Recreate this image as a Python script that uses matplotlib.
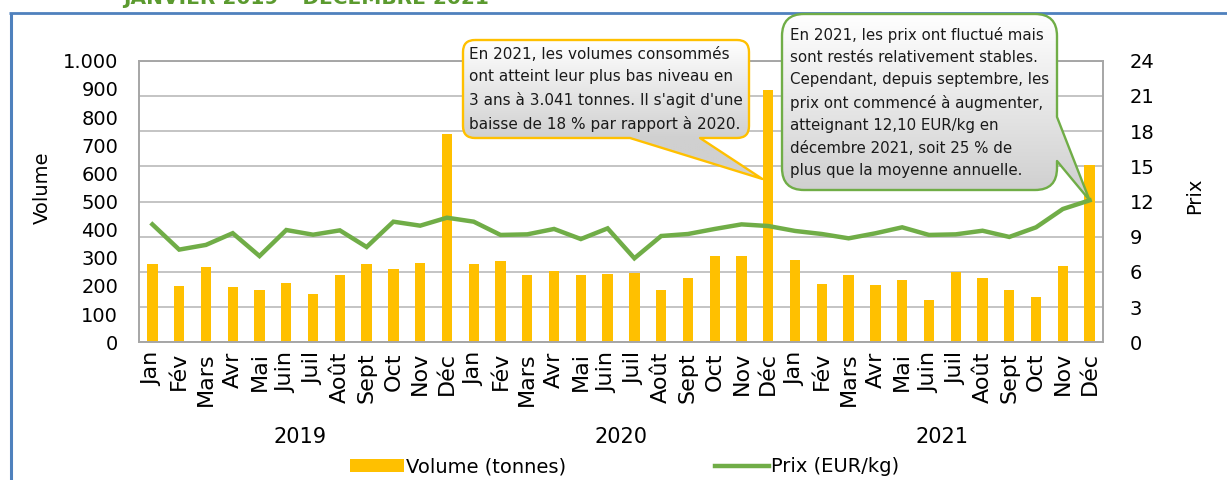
import numpy as np
import matplotlib
matplotlib.use("Agg")
import matplotlib.pyplot as plt
from matplotlib.path import Path
from matplotlib.patches import PathPatch
from matplotlib.ticker import FuncFormatter

# ---- data -------------------------------------------------------------
months = ['Jan', 'Fév', 'Mars', 'Avr', 'Mai', 'Juin', 'Juil', 'Août',
          'Sept', 'Oct', 'Nov', 'Déc']
years = ['2019', '2020', '2021']

vol_2019 = [278, 201, 266, 198, 187, 212, 170, 240, 278, 262, 282, 738]
vol_2020 = [278, 290, 240, 254, 239, 244, 245, 186, 228, 308, 305, 896]
vol_2021 = [292, 207, 239, 204, 222, 150, 250, 228, 185, 162, 272, 630]

price_2019 = [10.05, 7.90, 8.30, 9.30, 7.35, 9.57, 9.17, 9.54, 8.12, 10.28, 9.94, 10.62]
price_2020 = [10.28, 9.15, 9.20, 9.66, 8.80, 9.71, 7.16, 9.06, 9.23, 9.66, 10.05, 9.91]
price_2021 = [9.49, 9.23, 8.86, 9.29, 9.80, 9.15, 9.20, 9.51, 8.98, 9.80, 11.36, 12.10]

vol_ticks = list(range(0, 1001, 100))
price_ticks = list(range(0, 25, 3))

title = "JANVIER 2019 – DÉCEMBRE 2021"
note_volume = ("En 2021, les volumes consommés\n"
               "ont atteint leur plus bas niveau en\n"
               "3 ans à 3.041 tonnes. Il s'agit d'une\n"
               "baisse de 18 % par rapport à 2020.")
note_price = ("En 2021, les prix ont fluctué mais\n"
              "sont restés relativement stables.\n"
              "Cependant, depuis septembre, les\n"
              "prix ont commencé à augmenter,\n"
              "atteignant 12,10 EUR/kg en\n"
              "décembre 2021, soit 25 % de\n"
              "plus que la moyenne annuelle.")

volumes = vol_2019 + vol_2020 + vol_2021
prices = price_2019 + price_2020 + price_2021
labels = months * len(years)
x = np.arange(len(volumes))

# ---- style ------------------------------------------------------------
BAR = '#FFC000'
LINE = '#70AD47'
GRID = '#BFBFBF'
SPINE = '#A6A6A6'
FRAME = '#4F81BD'
plt.rcParams['font.family'] = ['DejaVu Sans']

W, H = 1227, 480
fig = plt.figure(figsize=(W / 100, H / 100), dpi=100)
fig.patch.set_facecolor('white')

ax = fig.add_axes([139 / W, 1 - 342.3 / H, (1103 - 139) / W, (342.3 - 60.7) / H])
ax2 = ax.twinx()

# volume bars with gridlines aligned on the price scale
vmax, pmax = vol_ticks[-1], price_ticks[-1]
ax.hlines([p * vmax / pmax for p in price_ticks], -0.5, len(x) - 0.5,
          colors=GRID, lw=1.3, zorder=0)
bars = ax.bar(x, volumes, width=0.385, color=BAR, zorder=2,
              label='Volume (tonnes)')
ax.set_xlim(-0.5, len(x) - 0.5)
ax.set_ylim(0, vmax)
ax.set_yticks(vol_ticks)
ax.yaxis.set_major_formatter(FuncFormatter(lambda v, _: f"{int(v):,}".replace(',', '.')))
ax.set_xticks(x)
ax.set_xticklabels(labels, rotation=90, fontsize=16)
ax.tick_params(axis='x', length=0, pad=7)
ax.tick_params(axis='y', length=0, pad=15, labelsize=14)

line, = ax2.plot(x, prices, color=LINE, lw=3.2, solid_joinstyle='miter',
                 label='Prix (EUR/kg)', zorder=3)
ax2.set_ylim(0, pmax)
ax2.set_yticks(price_ticks)
ax2.tick_params(axis='y', length=0, pad=19, labelsize=14)

for a in (ax, ax2):
    for s in a.spines.values():
        s.set_color(SPINE)
        s.set_linewidth(1.2)

# ---- overlay in pixel coordinates (origin top-left) ---------------------
ov = fig.add_axes([0, 0, 1, 1], zorder=10)
ov.set_xlim(0, W)
ov.set_ylim(H, 0)
ov.axis('off')
ov.patch.set_alpha(0)


def to_px(axis, xv, yv):
    dx, dy = axis.transData.transform((xv, yv))
    return dx, H - dy


# outer frame and the heading running off the top edge
ov.plot([10.5, 10.5], [12.8, H + 2], color=FRAME, lw=2.2, solid_capstyle='butt')
ov.plot([9.4, W + 2], [12.8, 12.8], color=FRAME, lw=2.0, solid_capstyle='butt')
ov.text(123, 3.5, title, fontsize=14.5, fontweight='bold', color='#5B9A2F',
        ha='left', va='baseline')

# axis titles
ov.text(42, 188, 'Volume', rotation=90, fontsize=14, ha='center', va='center')
ov.text(1195, 196, 'Prix', rotation=90, fontsize=14, ha='center', va='center')

# year group labels
for i, yr in enumerate(years):
    cx, _ = to_px(ax, i * 12 + 5.5, 0)
    ov.text(cx, 437, yr, fontsize=15, ha='center', va='center')

# legend
fig.legend(handles=[bars, line], loc='center', ncol=2,
           bbox_to_anchor=(624.5 / W, 1 - 467 / H), frameon=False,
           fontsize=14, handlelength=2.75, handletextpad=0.1,
           columnspacing=7.7, handleheight=0.62)


def callout(x0, y0, x1, y1, r, edge, a, b, tip):
    """Rounded box with a pointer leaving from `edge` between a and b."""
    M, L, C = Path.MOVETO, Path.LINETO, Path.CURVE3
    v, c = [(x0 + r, y0)], [M]

    def seg(pts, codes):
        v.extend(pts)
        c.extend(codes)

    seg([(x1 - r, y0)], [L])
    seg([(x1, y0), (x1, y0 + r)], [C, C])
    if edge == 'right':
        seg([(x1, a), tip, (x1, b)], [L, L, L])
    seg([(x1, y1 - r)], [L])
    seg([(x1, y1), (x1 - r, y1)], [C, C])
    if edge == 'bottom':
        seg([(b, y1), tip, (a, y1)], [L, L, L])
    seg([(x0 + r, y1)], [L])
    seg([(x0, y1), (x0, y1 - r)], [C, C])
    seg([(x0, y0 + r)], [L])
    seg([(x0, y0), (x0 + r, y0)], [C, C])
    return Path(v, c)


def draw_callout(path, y0, y1, edgecolor, top='#FFFFFF', bottom='#D0D0D0'):
    ext = path.get_extents()
    rows = np.arange(int(ext.y0), int(ext.y1) + 2)
    t = np.clip((rows - y0) / (y1 - y0), 0, 1)
    c0 = np.array(matplotlib.colors.to_rgb(top))
    c1 = np.array(matplotlib.colors.to_rgb(bottom))
    img = (c0[None, :] * (1 - t[:, None]) + c1[None, :] * t[:, None])[:, None, :]
    im = ov.imshow(img, extent=(ext.x0, ext.x1, rows[-1], rows[0]),
                   aspect='auto', interpolation='bilinear', zorder=1)
    patch = PathPatch(path, facecolor='none', edgecolor=edgecolor, lw=1.7,
                      zorder=2, joinstyle='round')
    ov.add_patch(patch)
    im.set_clip_path(patch)


# volume note pointing at the December 2020 bar
tip_v = to_px(ax, 23 - 0.22, 580)
p1 = callout(463, 40, 749, 138, 12, 'bottom', 630, 700, tip_v)
draw_callout(p1, 40, 138, BAR)
ov.text(469, 47, note_volume, fontsize=11, ha='left', va='top',
        linespacing=1.6, color='#1A1A1A', zorder=3)

# price note pointing at the December 2021 price
tip_p = to_px(ax2, 35, price_2021[-1])
p2 = callout(782, 14, 1057, 190, 22, 'right', 117, 161, tip_p)
draw_callout(p2, 14, 190, LINE)
ov.text(790, 27, note_price, fontsize=10.8, ha='left', va='top',
        linespacing=1.6, color='#1A1A1A', zorder=3)
ov.set_xlim(0, W)
ov.set_ylim(H, 0)

fig.savefig('out.png', dpi=100)
